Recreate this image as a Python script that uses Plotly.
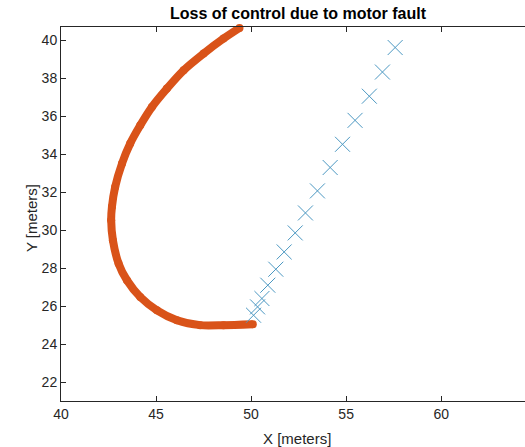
import plotly.graph_objects as go

# Faulty vehicle trajectory (orange)
traj_x = [49.39, 48.55, 47.50, 46.45, 45.57, 44.78, 44.17, 43.64, 43.21, 42.85,
          42.68, 42.64, 42.73, 43.03, 43.47, 44.17, 45.05, 46.10, 47.32, 48.55, 50.09]
traj_y = [40.65, 40.09, 39.30, 38.42, 37.46, 36.49, 35.53, 34.57, 33.52, 32.29,
          31.24, 30.54, 29.49, 28.26, 27.38, 26.50, 25.80, 25.28, 25.02, 25.02, 25.07]

# Reference waypoints (blue x markers)
ref_x = [50.13, 50.34, 50.57, 50.88, 51.30, 51.74, 52.32, 52.86, 53.49, 54.16,
         54.81, 55.47, 56.22, 56.91, 57.58]
ref_y = [25.54, 25.98, 26.42, 27.12, 27.96, 28.87, 29.87, 30.92, 32.08, 33.31,
         34.53, 35.79, 37.06, 38.33, 39.62]

x_ticks = [40, 45, 50, 55, 60]
y_ticks = [22, 24, 26, 28, 30, 32, 34, 36, 38, 40]

ORANGE = "#D95319"
BLUE = "#4c98c2"
AX = "#262626"
FONT = "Liberation Sans, Arial, Helvetica, sans-serif"

fig = go.Figure()
fig.add_trace(go.Scatter(
    x=traj_x, y=traj_y, mode="lines+markers",
    line=dict(color=ORANGE, width=8, shape="spline", smoothing=0.8),
    marker=dict(color=ORANGE, size=8),
    cliponaxis=False, showlegend=False, hoverinfo="skip"))
fig.add_trace(go.Scatter(
    x=ref_x, y=ref_y, mode="markers",
    marker=dict(symbol="x-thin-open", size=15, color=BLUE,
                line=dict(color=BLUE, width=1)),
    showlegend=False))

fig.update_layout(
    width=525, height=447,
    margin=dict(l=61, r=0, t=27, b=46, pad=0, autoexpand=False),
    paper_bgcolor="white", plot_bgcolor="white",
    font=dict(family=FONT, color=AX, size=14),
    xaxis=dict(range=[40, 64.41], tickvals=x_ticks, ticks="inside", ticklen=5,
               tickcolor=AX, showline=True, linecolor=AX, linewidth=1,
               mirror="ticks", showgrid=False, zeroline=False, automargin=False,
               tickfont=dict(size=14, color=AX)),
    yaxis=dict(range=[21.03, 40.70], tickvals=y_ticks, ticks="inside", ticklen=5,
               tickcolor=AX, showline=True, linecolor=AX, linewidth=1,
               mirror=False, showgrid=False, zeroline=False, automargin=False,
               tickfont=dict(size=14, color=AX)),
    annotations=[
        dict(text="<b>Loss of control due to motor fault</b>", xref="paper", yref="paper",
             x=0.512, y=1.0, yshift=13.5, showarrow=False, xanchor="center", yanchor="middle",
             font=dict(size=16, color="#000000")),
        dict(text="X [meters]", xref="paper", yref="paper", x=0.509, y=0, yshift=-37,
             showarrow=False, xanchor="center", yanchor="middle",
             font=dict(size=15, color=AX)),
        dict(text="Y [meters]", xref="paper", yref="paper", x=0, xshift=-30, y=0.489,
             textangle=-90, showarrow=False, xanchor="center", yanchor="middle",
             font=dict(size=15, color=AX)),
    ],
)

fig.write_html("out.html", config={"displayModeBar": False},
               post_script="document.body.style.margin='0';document.body.style.padding='0';")
